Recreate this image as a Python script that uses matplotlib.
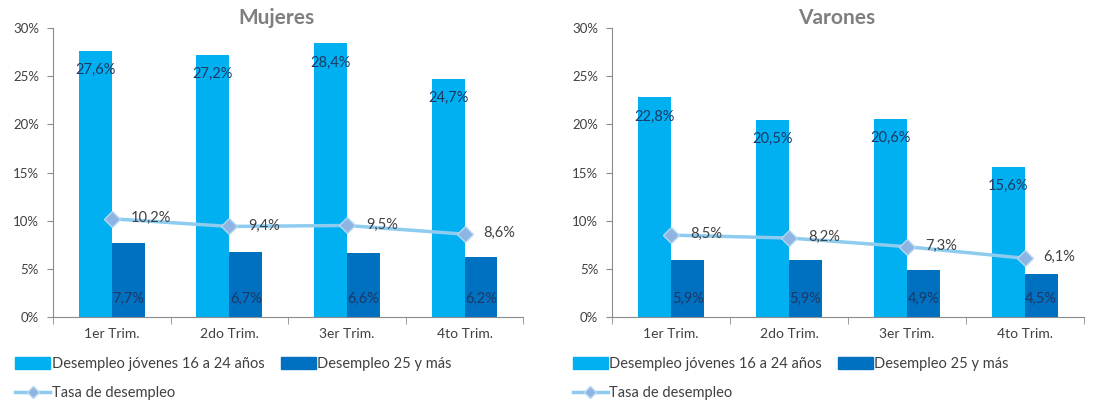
import numpy as np
import matplotlib
matplotlib.use('Agg')
import matplotlib.pyplot as plt
from matplotlib.lines import Line2D
from matplotlib.patches import Patch

plt.rcParams['font.family'] = ['Lato', 'DejaVu Sans']

# ---------------- data ----------------
quarters = ['1er Trim.', '2do Trim.', '3er Trim.', '4to Trim.']
titles = ['Mujeres', 'Varones']

young_muj = [27.6, 27.2, 28.4, 24.7]
adult_muj = [7.7, 6.7, 6.6, 6.2]
rate_muj = [10.2, 9.4, 9.5, 8.6]

young_var = [22.8, 20.5, 20.6, 15.6]
adult_var = [5.9, 5.9, 4.9, 4.5]
rate_var = [8.5, 8.2, 7.3, 6.1]

yticks = [0, 5, 10, 15, 20, 25, 30]

C_YOUNG = '#00B0F0'
C_ADULT = '#0070C0'
C_LINE = '#8DCBEF'
C_MARK = '#8DB4E2'
C_LAB = '#1F3864'
C_TXT = '#404040'
C_AX = '#8C8C8C'


def fmt(v):
    return f"{v:.1f}%".replace('.', ',')


def panel(ax, title, young, adult, rate):
    x = np.arange(len(quarters))
    w = 0.28
    ax.bar(x - w/2, young, w, color=C_YOUNG, zorder=2)
    ax.bar(x + w/2, adult, w, color=C_ADULT, zorder=2)
    ax.plot(x, rate, color=C_LINE, lw=2.5, marker='D', ms=8,
            mfc=C_MARK, mec='#B8D8F2', mew=1, zorder=3)

    for i in range(len(x)):
        ax.text(x[i] - w/2, young[i] - 2.0, fmt(young[i]), ha='center', va='center',
                fontsize=10.5, color=C_LAB, zorder=4)
        ax.text(x[i] + w/2, 1.9, fmt(adult[i]), ha='center', va='center',
                fontsize=10.5, color=C_LAB, zorder=4)
        ax.text(x[i] + 0.16, rate[i] + 0.1, fmt(rate[i]), ha='left', va='center',
                fontsize=10.5, color=C_TXT, zorder=4)

    ax.set_xlim(-0.5, 3.5)
    ax.set_ylim(0, 30)
    ax.set_yticks(yticks)
    ax.set_yticklabels([f"{t}%" for t in yticks])
    ax.set_xticks(x)
    ax.set_xticklabels(quarters)
    ax.set_xticks(np.arange(-0.5, 4, 1), minor=True)
    ax.tick_params(axis='x', which='major', length=0, pad=8, labelsize=10, labelcolor=C_TXT)
    ax.tick_params(axis='x', which='minor', length=5, color=C_AX, direction='out')
    ax.tick_params(axis='y', length=4, color=C_AX, labelsize=9.5, labelcolor=C_TXT, pad=6)
    for s in ['top', 'right']:
        ax.spines[s].set_visible(False)
    for s in ['left', 'bottom']:
        ax.spines[s].set_color(C_AX)
    ax.set_title(title, fontsize=15, fontweight='bold', color='#7F7F7F', pad=-7, x=0.476)


fig = plt.figure(figsize=(10.99, 4.0), dpi=100)
ax1 = fig.add_axes([0.0482, 0.2075, 0.428, 0.7225])
ax2 = fig.add_axes([0.557, 0.2075, 0.429, 0.7225])

panel(ax1, titles[0], young_muj, adult_muj, rate_muj)
panel(ax2, titles[1], young_var, adult_var, rate_var)

# order so that ncol=2 fills rows: young | adult / line
handles = [Patch(color=C_YOUNG, label='Desempleo jóvenes 16 a 24 años'),
           Line2D([], [], color=C_LINE, lw=2.5, marker='D', ms=6,
                  mfc=C_MARK, mec='#B8D8F2', label='Tasa de desempleo'),
           Patch(color=C_ADULT, label='Desempleo 25 y más')]

for lx in [0.014, 0.521]:
    fig.legend(handles=handles, loc='upper left', bbox_to_anchor=(lx, 0.108),
               ncol=2, frameon=False, fontsize=10.5, labelcolor=C_TXT,
               handlelength=2.4, handleheight=0.9, handletextpad=0.1,
               columnspacing=1.1, labelspacing=1.05, borderaxespad=0, borderpad=0)

fig.savefig('out.png', dpi=100)
